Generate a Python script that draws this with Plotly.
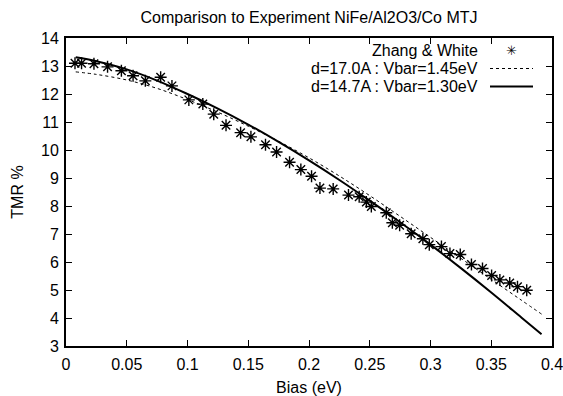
import plotly.graph_objects as go

# ---- data ----
bias_exp = [0.0074, 0.0128, 0.0230, 0.0342, 0.0456, 0.0552, 0.0653, 0.0779, 0.0872,
            0.1011, 0.1126, 0.1216, 0.1317, 0.1437, 0.1522, 0.1642, 0.1733, 0.1840,
            0.1933, 0.2021, 0.2090, 0.2199, 0.2325, 0.2413, 0.2472, 0.2513, 0.2636,
            0.2686, 0.2746, 0.2841, 0.2937, 0.2990, 0.3090, 0.3160, 0.3245, 0.3337,
            0.3428, 0.3503, 0.3571, 0.3652, 0.3716, 0.3792]
tmr_exp = [13.10, 13.10, 13.08, 12.97, 12.83, 12.65, 12.47, 12.60, 12.29,
           11.79, 11.64, 11.28, 10.88, 10.62, 10.47, 10.19, 9.93, 9.56,
           9.30, 9.06, 8.64, 8.61, 8.39, 8.33, 8.14, 7.98, 7.76,
           7.40, 7.31, 7.01, 6.83, 6.62, 6.55, 6.30, 6.27, 5.91,
           5.77, 5.52, 5.36, 5.25, 5.12, 4.99]

bias_model = [0.008, 0.025, 0.05, 0.075, 0.1, 0.125, 0.15, 0.175, 0.2, 0.225,
              0.25, 0.275, 0.3, 0.325, 0.35, 0.375, 0.3914]
tmr_d170 = [12.79, 12.70, 12.50, 12.20, 11.80, 11.35, 10.85, 10.31, 9.72, 9.07,
            8.37, 7.63, 6.88, 6.13, 5.38, 4.63, 4.14]
tmr_d147 = [13.31, 13.17, 12.88, 12.48, 12.00, 11.48, 10.91, 10.29, 9.63, 8.93,
            8.19, 7.42, 6.62, 5.78, 4.91, 4.01, 3.42]

x_ticks = [0, 0.05, 0.1, 0.15, 0.2, 0.25, 0.3, 0.35, 0.4]
x_tick_labels = ["0", "0.05", "0.1", "0.15", "0.2", "0.25", "0.3", "0.35", "0.4"]
y_ticks = [3, 4, 5, 6, 7, 8, 9, 10, 11, 12, 13, 14]
y_tick_labels = [str(v) for v in y_ticks]

legend_labels = ["Zhang & White", "d=17.0A : Vbar=1.45eV", "d=14.7A : Vbar=1.30eV"]

FONT = "Liberation Sans, Arial, Helvetica, sans-serif"
FS = 16

fig = go.Figure()
fig.add_trace(go.Scatter(x=bias_model, y=tmr_d170, mode="lines", line_shape="spline",
                         line=dict(color="black", width=1, dash="3px,3px"),
                         name=legend_labels[1]))
fig.add_trace(go.Scatter(x=bias_model, y=tmr_d147, mode="lines", line_shape="spline",
                         line=dict(color="black", width=2),
                         name=legend_labels[2]))
fig.add_trace(go.Scatter(x=bias_exp, y=tmr_exp, mode="markers",
                         marker=dict(symbol="asterisk-open", size=10, color="black",
                                     line=dict(color="black", width=1.4)),
                         name=legend_labels[0]))

W, H = 563, 396
ML, MR, MT, MB = 66, 11, 38, 50
pw, ph = W - ML - MR, H - MT - MB


def px(zx):
    return (zx - ML) / pw


def py(zy):
    return (H - MB - zy) / ph


axis_common = dict(
    showline=True, linecolor="black", linewidth=2, mirror="ticks",
    ticks="inside", ticklen=6, tickwidth=1, tickcolor="black",
    showgrid=False, zeroline=False, automargin=False,
    ticklabeloverflow="allow",
    tickfont=dict(family=FONT, size=FS, color="black"),
)

annotations = []
rows_y = [50.5, 68.5, 86.5]
for lab, ry in zip(legend_labels, rows_y):
    annotations.append(dict(text=lab, xref="paper", yref="paper", x=px(480), y=py(ry),
                            xanchor="right", yanchor="middle", showarrow=False,
                            font=dict(family=FONT, size=FS, color="black")))
annotations.append(dict(text="✳", xref="paper", yref="paper", x=px(511), y=py(rows_y[0]),
                        xanchor="center", yanchor="middle", showarrow=False,
                        font=dict(family="DejaVu Sans", size=13, color="black")))

shapes = [
    dict(type="line", xref="paper", yref="paper", x0=px(490), x1=px(533),
         y0=py(rows_y[1]), y1=py(rows_y[1]),
         line=dict(color="black", width=1, dash="3px,3px")),
    dict(type="line", xref="paper", yref="paper", x0=px(490), x1=px(533),
         y0=py(rows_y[2]), y1=py(rows_y[2]),
         line=dict(color="black", width=2)),
]

fig.update_layout(
    width=W, height=H,
    margin=dict(l=ML, r=MR, t=MT, b=MB, autoexpand=False),
    paper_bgcolor="white", plot_bgcolor="white",
    showlegend=False,
    font=dict(family=FONT, size=FS, color="black"),
    title=dict(text="Comparison to Experiment NiFe/Al2O3/Co MTJ",
               x=(ML + pw / 2) / W, xanchor="center", y=1 - 17 / H, yanchor="middle",
               font=dict(family=FONT, size=FS, color="black")),
    xaxis=dict(range=[0, 0.4], tickvals=x_ticks, ticktext=x_tick_labels,
               ticklabelstandoff=3,
               title=dict(text="Bias (eV)", standoff=11,
                          font=dict(family=FONT, size=FS, color="black")),
               **axis_common),
    yaxis=dict(range=[3, 14], tickvals=y_ticks, ticktext=y_tick_labels,
               ticklabelstandoff=2,
               title=dict(text="TMR %", standoff=13,
                          font=dict(family=FONT, size=FS, color="black")),
               **axis_common),
    annotations=annotations,
    shapes=shapes,
)

fig.write_html("out.html")
